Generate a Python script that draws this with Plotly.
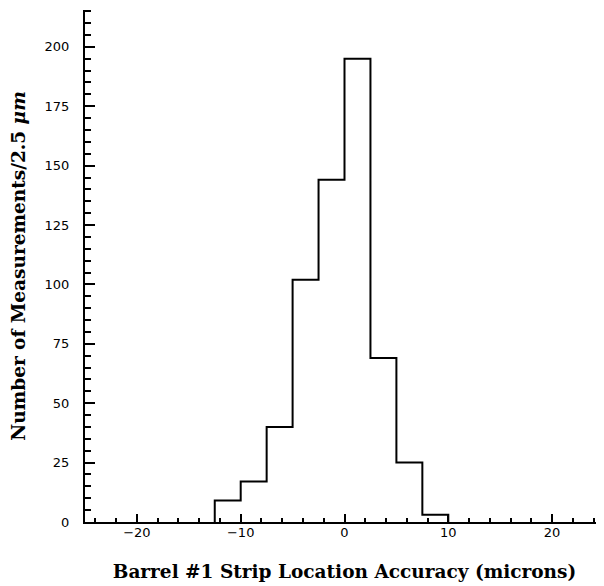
import plotly.graph_objects as go

# Bin edges (microns) and counts per 2.5 um bin
bin_edges = [-12.5, -10.0, -7.5, -5.0, -2.5, 0.0, 2.5, 5.0, 7.5, 10.0]
counts = [9, 17, 40, 102, 144, 195, 69, 25, 3]

x_ticks = [-20, -10, 0, 10, 20]
y_ticks = [0, 25, 50, 75, 100, 125, 150, 175, 200]

# step outline built from the bins
xs = [bin_edges[0]] + bin_edges[:-1] + [bin_edges[-1]]
ys = [0] + counts + [0]

fig = go.Figure()
fig.add_trace(go.Scatter(
    x=xs, y=ys, mode="lines", line=dict(shape="hv", color="black", width=2),
    showlegend=False, hoverinfo="skip"))

tick_font = dict(family="DejaVu Sans, sans-serif", size=13, color="black")
title_font = dict(family="DejaVu Serif, serif", size=18.5, color="black")

fig.update_layout(
    width=596, height=578,
    margin=dict(l=77, r=0, t=2, b=64, autoexpand=False),
    paper_bgcolor="white", plot_bgcolor="white",
    xaxis=dict(
        range=[-25, 25], tickvals=x_ticks,
        ticktext=[("\u2212" + str(-v)) if v < 0 else str(v) for v in x_ticks],
        ticks="inside", ticklen=8, tickwidth=2, tickcolor="black",
        minor=dict(dtick=2, tick0=0, ticks="inside", ticklen=4, tickwidth=1.5, tickcolor="black"),
        showline=True, linecolor="black", linewidth=2, showgrid=False, zeroline=False,
        tickfont=tick_font, ticklabelstandoff=-3, automargin=False,
        title=dict(text="<b>Barrel #1 Strip Location Accuracy (microns)</b>", font=title_font, standoff=26),
    ),
    yaxis=dict(
        range=[0, 215.5], tickvals=y_ticks,
        ticks="inside", ticklen=10, tickwidth=2, tickcolor="black",
        minor=dict(dtick=5, tick0=0, ticks="inside", ticklen=6, tickwidth=1.5, tickcolor="black"),
        showline=True, linecolor="black", linewidth=2, showgrid=False, zeroline=False,
        tickfont=tick_font, ticklabelstandoff=11, automargin=False,
        title=dict(text="<b>Number of Measurements/2.5 <i>\u03bcm</i></b>", font=title_font, standoff=16),
    ),
)

fig.write_html("out.html")
